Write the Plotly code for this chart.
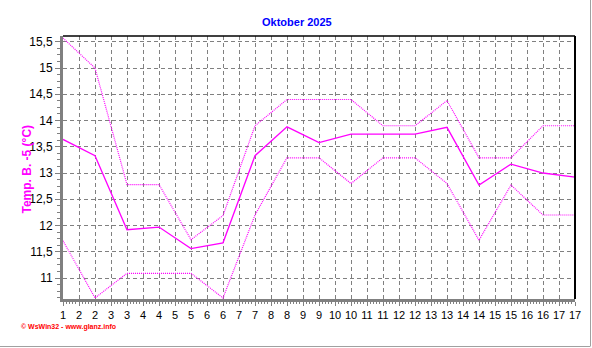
import plotly.graph_objects as go

days = list(range(1, 18))
temp_mean = [13.64, 13.33, 11.92, 11.97, 11.56, 11.67, 13.33, 13.88, 13.58, 13.74, 13.74, 13.74, 13.87, 12.77, 13.17, 13.0, 12.92]
temp_max = [15.57, 15.0, 12.78, 12.78, 11.73, 12.19, 13.9, 14.4, 14.4, 14.4, 13.9, 13.9, 14.38, 13.29, 13.29, 13.9, 13.9]
temp_min = [11.71, 10.62, 11.09, 11.09, 11.09, 10.62, 12.2, 13.29, 13.29, 12.8, 13.29, 13.29, 12.8, 11.72, 12.77, 12.2, 12.2]

x_tick_vals = [1 + 0.5 * i for i in range(33)]
x_tick_labels = ["1", "2", "2", "3", "3", "4", "4", "5", "5", "6", "6", "7", "7", "8", "8", "9", "9",
                 "10", "10", "11", "11", "12", "12", "13", "13", "14", "14", "15", "15", "16", "16", "17", "17"]
y_tick_vals = [11, 11.5, 12, 12.5, 13, 13.5, 14, 14.5, 15, 15.5]
y_tick_labels = ["11", "11,5", "12", "12,5", "13", "13,5", "14", "14,5", "15", "15,5"]

title_text = "Oktober 2025"
y_title = "Temp. B. -5 (°C)"
footer = "© WsWin32 - www.glanz.info"

MAG = "#FF00FF"
fig = go.Figure()
fig.add_trace(go.Scatter(x=days, y=temp_max, mode="lines",
                         line=dict(color=MAG, width=1.2, dash="1px,1px"), hoverinfo="skip"))
fig.add_trace(go.Scatter(x=days, y=temp_min, mode="lines",
                         line=dict(color=MAG, width=1.2, dash="1px,1px"), hoverinfo="skip"))
fig.add_trace(go.Scatter(x=days, y=temp_mean, mode="lines",
                         line=dict(color=MAG, width=1.3), hoverinfo="skip"))

W, H = 592, 348
L, R, T, B = 63, 17, 36, 49
pw, ph = W - L - R, H - T - B

def px_x(x):
    return (x - L) / pw

def px_y(y):
    return (H - B - y) / ph

fig.update_layout(
    width=W, height=H,
    margin=dict(l=L, r=R, t=T, b=B, pad=0),
    paper_bgcolor="white", plot_bgcolor="white",
    showlegend=False,
    separators=",.",
    font=dict(family="Liberation Sans, Arial, sans-serif", size=11, color="black"),
    xaxis=dict(range=[1, 17], tickmode="array", tickvals=x_tick_vals, ticktext=x_tick_labels,
               showgrid=True, gridcolor="#808080", griddash="4px,3px", gridwidth=1,
               showline=True, linecolor="#808080", linewidth=3,
               ticks="outside", ticklen=4, tickcolor="#808080", tickwidth=1,
               minor=dict(dtick=0.1, tick0=1, ticks="outside", ticklen=2, tickcolor="#808080", showgrid=False),
               zeroline=False, fixedrange=True, tickfont=dict(size=11)),
    yaxis=dict(range=[10.6, 15.61], tickmode="array", tickvals=y_tick_vals, ticktext=y_tick_labels,
               showgrid=True, gridcolor="#808080", griddash="4px,3px", gridwidth=1,
               showline=True, linecolor="#808080", linewidth=3,
               ticks="outside", ticklen=5, tickcolor="#808080", tickwidth=1,
               minor=dict(dtick=0.125, tick0=11, ticks="outside", ticklen=3, tickcolor="#808080", showgrid=False),
               zeroline=False, fixedrange=True, tickfont=dict(size=12)),
    shapes=[
        dict(type="line", xref="paper", yref="paper", x0=0, x1=1, y0=1, y1=1,
             line=dict(color="black", width=1.5)),
        dict(type="line", xref="paper", yref="paper", x0=1, x1=1, y0=0, y1=1,
             line=dict(color="black", width=2)),
        dict(type="line", xref="paper", yref="paper", x0=px_x(0), x1=px_x(590), y0=px_y(346.5), y1=px_y(346.5),
             line=dict(color="#A0A0A0", width=1)),
        dict(type="line", xref="paper", yref="paper", x0=px_x(590.5), x1=px_x(590.5), y0=px_y(0), y1=px_y(346.5),
             line=dict(color="#A0A0A0", width=1)),
    ],
    annotations=[
        dict(text="<b>" + title_text + "</b>", xref="paper", yref="paper", x=px_x(297), y=px_y(22),
             xanchor="center", yanchor="middle", showarrow=False,
             font=dict(color="#0000FF", size=11)),
        dict(text="<b>" + y_title + "</b>", xref="paper", yref="paper", x=px_x(26), y=px_y(169.5),
             xanchor="center", yanchor="middle", showarrow=False, textangle=-90,
             font=dict(color=MAG, size=12)),
        dict(text="<b>" + footer + "</b>", xref="paper", yref="paper", x=px_x(19), y=px_y(327),
             xanchor="left", yanchor="middle", showarrow=False,
             font=dict(color="#FF0000", size=7)),
    ],
)

fig.write_html("out.html", config={"displayModeBar": False})
